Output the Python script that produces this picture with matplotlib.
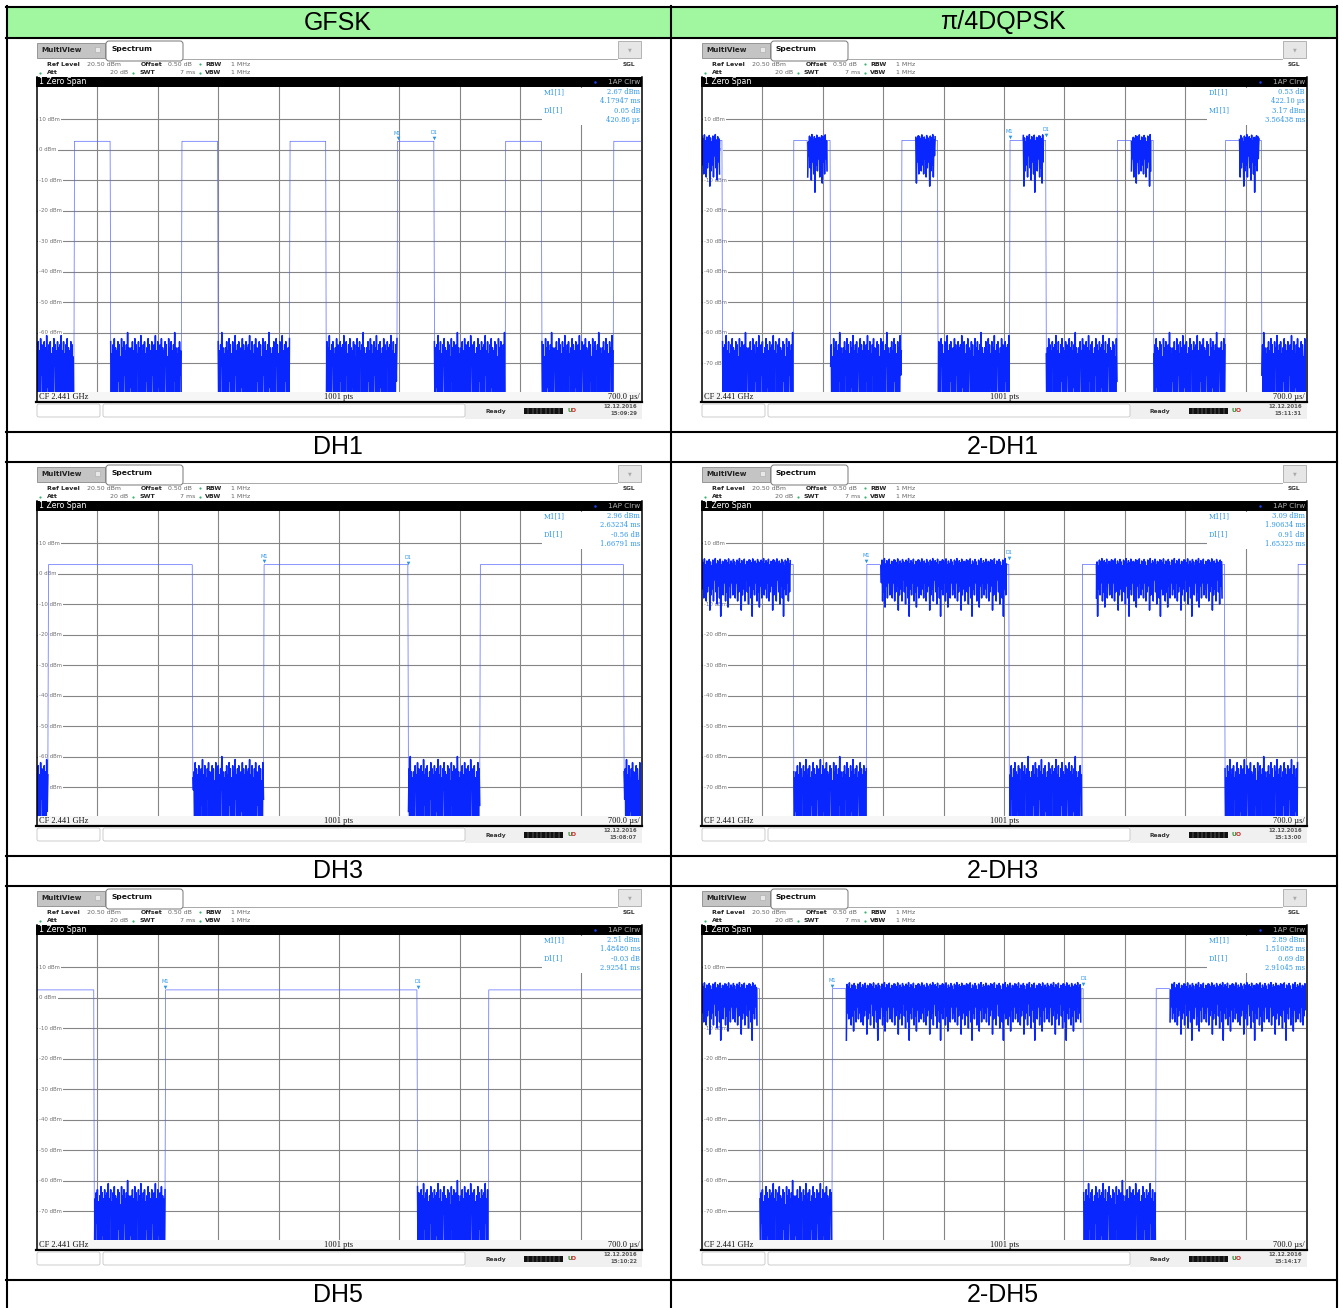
import numpy as np
import matplotlib
matplotlib.use('Agg')
import matplotlib.pyplot as plt
from matplotlib.patches import Rectangle, FancyBboxPatch

W, H = 1343, 1308

# table texts
col_titles = ['GFSK', 'π/4DQPSK']
row_labels = [['DH1', '2-DH1'], ['DH3', '2-DH3'], ['DH5', '2-DH5']]

# analyzer settings (zero span, 7 ms sweep, 1001 pts, 10 dB/div)
sweep_us = 7000
n_pts = 1001
ref_level = 20.5
grid_levels = [10, 0, -10, -20, -30, -40, -50, -60, -70]

# burst rise times (us) and burst lengths (us)
burst_rises = [
    [429, 1679, 2929, 4179, 5429, 6679],      # DH1
    [-186, 1064, 2314, 3564, 4814, 6064],     # 2-DH1
    [132, 2632, 5132],                        # DH3
    [-594, 1906, 4406, 6906],                 # 2-DH3
    [-2265, 1485, 5235],                      # DH5
    [-2239, 1511, 5261],                      # 2-DH5
]
burst_lens = [421, 422, 1668, 1653, 2925, 2910]
burst_levels = [2.7, 3.0, 2.9, 3.0, 2.5, 2.9]
is_edr = [False, True, False, True, False, True]
header_len = 160    # GFSK access code + header in front of the DPSK payload
edr_tail = 30

floor_peaks = [-65, -63, -66, -62, -64, -67, -63, -65, -61, -66, -64, -63, -67,
               -65, -62, -64, -66, -63, -65, -64, -61, -66, -63, -67, -64, -62,
               -65, -66, -63, -64, -68, -62, -65, -63, -66, -64, -60, -65, -67]
floor_dips = [-90, -90, -90, -74, -90, -90, -90, -90, -78, -90, -90, -90, -90,
              -90, -71, -90, -90, -90, -90, -90, -90, -76, -90]
# DPSK payload texture (dBm)
edr_peaks = [4.3, 3.6, 4.8, 2.9, 4.1, 3.3, 4.6, 3.8, 2.5, 4.4, 3.9, 4.9, 3.1,
             4.2, 3.5, 4.7, 2.8, 4.0, 3.7, 4.5]
edr_dips = [-5, -8, -3, -9, -6, -4, -12, -7, -5, -9, -2, -6, -10, -4, -8, -14,
            -5, -7, -3, -9, -6, -11, -4, -8, -3, -7]

# marker readouts
m1_time = [4.17947, 3.56438, 2.63234, 1.90634, 1.48480, 1.51088]   # ms
m1_level = [2.67, 3.17, 2.96, 3.09, 2.51, 2.89]                    # dBm
d1_time = [420.86, 422.10, 1667.91, 1653.23, 2925.41, 2910.45]     # us
d1_db = [0.05, 0.53, -0.56, 0.91, -0.03, 0.69]
d1_first = [False, True, False, False, False, False]
timestamps = ['15:09:29', '15:11:31', '15:08:07', '15:13:00', '15:10:22', '15:14:17']

trace_blue = '#0a26ff'
thin_blue = '#5868ff'
marker_blue = '#2b95e8'

fig = plt.figure(figsize=(W / 100, H / 100), dpi=100)
ov = fig.add_axes([0, 0, 1, 1], zorder=10)
ov.set_xlim(0, W)
ov.set_ylim(H, 0)
ov.axis('off')


def rect(x, y, w, h, **kw):
    ov.add_patch(Rectangle((x, y), w, h, **kw))


def txt(x, y, s, **kw):
    kw.setdefault('va', 'center')
    ov.text(x, y, s, **kw)


def build_trace(rises, length, level, edr):
    t = np.linspace(0, sweep_us, n_pts)
    y = np.empty(n_pts)
    dense = np.zeros(n_pts, dtype=bool)
    for i, ti in enumerate(t):
        k = i // 2
        on = [r for r in rises if r <= ti < r + length]
        if on:
            r = on[0]
            if edr and r + header_len <= ti < r + length - edr_tail:
                y[i] = edr_peaks[k % len(edr_peaks)] if i % 2 == 0 else edr_dips[k % len(edr_dips)]
                dense[i] = True
            else:
                y[i] = level
        else:
            y[i] = floor_peaks[k % len(floor_peaks)] if i % 2 == 0 else floor_dips[k % len(floor_dips)]
            dense[i] = True
    return t, y, dense


def draw_panel(p, dx, dy):
    X = lambda v: v + dx
    Y = lambda v: v + dy
    sans = 'DejaVu Sans'
    # tabs
    rect(X(37), Y(43), 68, 15, facecolor='#c4c4c4', edgecolor='#8a8a8a', lw=0.6)
    txt(X(41), Y(50.5), 'MultiView', fontsize=5.2, fontweight='bold', color='#222222', family=sans)
    rect(X(95), Y(47), 5, 5, facecolor='#e8e8e8', edgecolor='#aaaaaa', lw=0.4)
    ov.add_patch(FancyBboxPatch((X(106), Y(41)), 77, 20, boxstyle='round,pad=0,rounding_size=3',
                                facecolor='white', edgecolor='#777777', lw=0.7))
    ov.plot([X(183), X(617)], [Y(59), Y(59)], color='#9a9a9a', lw=0.6)
    txt(X(111), Y(49.5), 'Spectrum', fontsize=5.4, fontweight='bold', color='#111111', family=sans)
    rect(X(618), Y(41), 23, 17, facecolor='#e6e6e6', edgecolor='#a8a8a8', lw=0.6)
    txt(X(629.5), Y(49.5), '▼', fontsize=3.5, color='#aaaaaa', ha='center', family=sans)
    txt(X(629), Y(64.5), 'SGL', fontsize=4.2, fontweight='bold', color='#333333', ha='center', family=sans)
    # settings lines
    lab = dict(fontsize=4.5, fontweight='bold', color='#222222', family=sans)
    val = dict(fontsize=4.5, color='#666666', family=sans)
    txt(X(47), Y(64), 'Ref Level', **lab)
    txt(X(87), Y(64), '20.50 dBm', **val)
    txt(X(141), Y(64), 'Offset', **lab)
    txt(X(168), Y(64), '0.50 dB', **val)
    txt(X(205), Y(64), 'RBW', **lab)
    txt(X(231), Y(64), '1 MHz', **val)
    txt(X(47), Y(72.5), 'Att', **lab)
    txt(X(128), Y(72.5), '20 dB', ha='right', **val)
    txt(X(139), Y(72.5), 'SWT', **lab)
    txt(X(195), Y(72.5), '7 ms', ha='right', **val)
    txt(X(205), Y(72.5), 'VBW', **lab)
    txt(X(231), Y(72.5), '1 MHz', **val)
    for gx, gy in [(200, 64), (40, 72.5), (133, 72.5), (200, 72.5)]:
        ov.plot(X(gx), Y(gy), 'o', ms=1.6, color='#3cb371', mec='none')
    # title bar
    rect(X(36), Y(77), 606, 10, facecolor='black', edgecolor='none')
    txt(X(39), Y(82), '1 Zero Span', fontsize=5.6, color='white', family=sans)
    ov.plot(X(595), Y(82), 'o', ms=1.8, color='#2040ff', mec='none')
    txt(X(640), Y(82), '1AP Clrw', fontsize=5.2, color='#b0b0b0', ha='right', family=sans)

    # plot area
    ax = fig.add_axes([X(37) / W, 1 - Y(392) / H, 604 / W, 305 / H])
    ax.set_xlim(0, sweep_us)
    ax.set_ylim(ref_level - 100, ref_level)
    ax.axis('off')
    for k in range(1, 10):
        ax.axvline(k * 700, color='#858585', lw=0.8, zorder=1)
    for g in grid_levels:
        ax.axhline(g, color='#858585', lw=0.8, zorder=1)
        ax.text(25, g, f'{g} dBm', fontsize=3.9, color='#707070', va='center', ha='left',
                family=sans, zorder=2,
                bbox=dict(facecolor='white', edgecolor='none', pad=0.8))
    t, y, dense = build_trace(burst_rises[p], burst_lens[p], burst_levels[p], is_edr[p])
    ax.plot(t, y, color=thin_blue, lw=0.5, zorder=3)
    ax.plot(t, np.where(dense, y, np.nan), color=trace_blue, lw=1.1, zorder=3)

    # markers
    m1x = m1_time[p] * 1000
    d1x = m1x + d1_time[p]
    for mx, my, name in [(m1x, m1_level[p], 'M1'), (d1x, m1_level[p] + d1_db[p], 'D1')]:
        ax.plot(mx, my + 1.0, marker='v', ms=2.6, color=marker_blue, mec='none', zorder=4)
        ax.annotate(name, (mx, my), xytext=(0, 6), textcoords='offset points', fontsize=3.6,
                    color=marker_blue, ha='center', va='center', family=sans, zorder=4)

    # marker readout box
    rect(X(542), Y(87.5), 99, 37, facecolor='white', edgecolor='none')
    ms_txt = f'{m1_time[p]:.5f} ms'
    d_txt = f'{d1_time[p]:.2f} µs' if d1_time[p] < 1000 else f'{d1_time[p] / 1000:.5f} ms'
    rows_m = [('M1[1]', f'{m1_level[p]:.2f} dBm'), ('', ms_txt)]
    rows_d = [('D1[1]', f'{d1_db[p]:.2f} dB'), ('', d_txt)]
    rows = rows_d + rows_m if d1_first[p] else rows_m + rows_d
    for i, (nm, vv) in enumerate(rows):
        yy = Y(92 + 9.3 * i)
        rf = dict(fontsize=4.9, color=marker_blue, family='DejaVu Serif')
        if nm:
            txt(X(544), yy, nm, **rf)
        txt(X(640), yy, vv, ha='right', **rf)

    # footer of the plot
    rect(X(37), Y(392), 604, 9, facecolor='#f6f6f6', edgecolor='none')
    ser = dict(fontsize=6.0, color='#111111', family='Liberation Serif')
    txt(X(39), Y(397), 'CF 2.441 GHz', **ser)
    txt(X(339), Y(397), '1001 pts', ha='center', **ser)
    txt(X(640), Y(397), '700.0 µs/', ha='right', **ser)
    ov.plot([X(36.5), X(36.5)], [Y(77), Y(402)], color='black', lw=1.1)
    ov.plot([X(641.5), X(641.5)], [Y(77), Y(402)], color='black', lw=1.1)
    ov.plot([X(36), X(642)], [Y(401.5), Y(401.5)], color='black', lw=1.6)

    # status bar
    rect(X(465), Y(403), 177, 16, facecolor='#f0f0f0', edgecolor='none')
    for bx, bw in [(37, 63), (103, 362)]:
        ov.add_patch(FancyBboxPatch((X(bx), Y(404)), bw, 13, boxstyle='round,pad=0,rounding_size=2',
                                    facecolor='white', edgecolor='#c4c4c4', lw=0.6))
    txt(X(485), Y(411), 'Ready', fontsize=4.3, fontweight='bold', color='#333333', family=sans)
    rect(X(524), Y(407.5), 39, 6, facecolor='#111111', edgecolor='none')
    for k in range(1, 9):
        ov.plot([X(524 + k * 4.33)] * 2, [Y(407.5), Y(413.5)], color='#bbbbbb', lw=0.3)
    txt(X(567), Y(411), 'U', fontsize=4.3, fontweight='bold', color='#2e8b2e', family=sans)
    txt(X(571), Y(411), 'O', fontsize=4.3, fontweight='bold', color='#cc2222', family=sans)
    dt = dict(fontsize=3.9, fontweight='bold', color='#555555', ha='right', family=sans)
    txt(X(637), Y(406.5), '12.12.2016', **dt)
    txt(X(637), Y(413.5), timestamps[p], **dt)


# table frame
rect(7, 7, 1329, 31, facecolor='#a0f7a0', edgecolor='none')
for yy in [7, 38, 431.5, 462, 855.5, 886, 1279.5]:
    ov.plot([6, 1337], [yy, yy], color='black', lw=1.5)
for xx in [6.5, 670.5, 1336.5]:
    ov.plot([xx, xx], [6, 1308], color='black', lw=1.5)

big = dict(fontsize=18, color='black', ha='center', family='Liberation Sans')
txt(338, 22.5, col_titles[0], **big)
txt(1003, 22.5, col_titles[1], **big)
label_y = [447, 871, 1295]
for r in range(3):
    for c in range(2):
        txt(338 + 665 * c, label_y[r], row_labels[r][c], **big)
        draw_panel(r * 2 + c, 665 * c, 424 * r)

fig.savefig('out.png', dpi=100, facecolor='white')
